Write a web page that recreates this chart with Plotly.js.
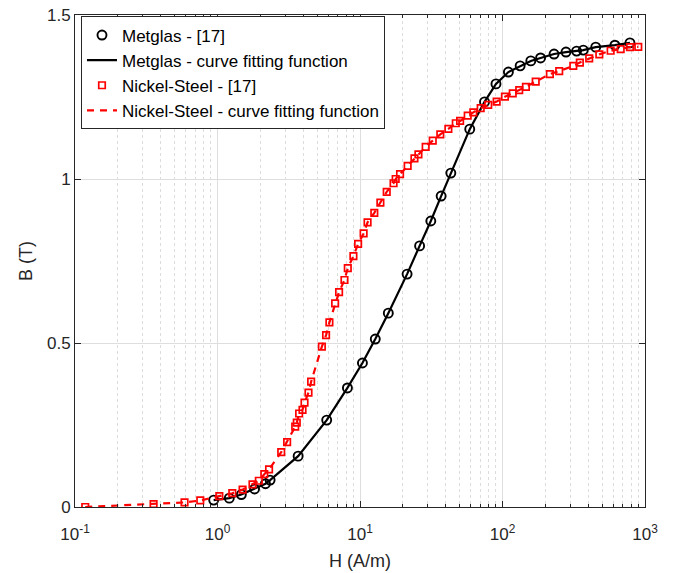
<!DOCTYPE html>
<html>
<head>
<meta charset="utf-8">
<script src="https://cdn.plot.ly/plotly-3.0.1.min.js"></script>
<style>html,body{margin:0;padding:0;background:#fff;}#chart{width:675px;height:573px;}</style>
</head>
<body>
<div id="chart"></div>
<script>
// Metglas measured data [17]
const metglasH = [0.94, 1.21, 1.47, 1.82, 2.17, 2.34, 3.68, 5.84, 8.16, 10.4, 12.8, 15.8, 21.4, 26.2, 31.4, 37.1, 43.4, 58.9, 74.8, 90.0, 110, 133, 158, 185, 230, 279, 331, 369, 451, 615, 784];
const metglasB = [0.021, 0.027, 0.038, 0.055, 0.071, 0.082, 0.155, 0.265, 0.363, 0.439, 0.512, 0.591, 0.710, 0.796, 0.872, 0.948, 1.018, 1.152, 1.235, 1.290, 1.326, 1.345, 1.360, 1.369, 1.381, 1.387, 1.390, 1.393, 1.402, 1.408, 1.415];

// Nickel-Steel measured data [17]
const nickelH = [0.118, 0.356, 0.587, 0.757, 1.03, 1.27, 1.50, 1.76, 1.95, 2.13, 2.30, 2.80, 3.08, 3.51, 3.60, 3.74, 3.95, 4.08, 4.35, 4.54, 5.40, 5.78, 6.10, 6.69, 7.13, 7.78, 8.21, 8.99, 9.70, 10.6, 11.3, 12.6, 13.9, 15.4, 17.2, 17.8, 19.1, 21.6, 24.1, 25.7, 28.9, 32.4, 36.6, 41.7, 47.0, 50.4, 57.0, 62.4, 70.3, 79.4, 91.0, 104, 118, 131, 146, 171, 215, 250, 314, 349, 406, 478, 574, 675, 784, 897];
const nickelB = [0.000, 0.009, 0.014, 0.020, 0.033, 0.042, 0.053, 0.069, 0.080, 0.100, 0.115, 0.167, 0.198, 0.245, 0.257, 0.285, 0.296, 0.318, 0.349, 0.382, 0.489, 0.524, 0.563, 0.621, 0.655, 0.692, 0.728, 0.765, 0.802, 0.834, 0.868, 0.897, 0.928, 0.961, 0.987, 1.000, 1.015, 1.040, 1.063, 1.075, 1.098, 1.117, 1.136, 1.153, 1.170, 1.177, 1.193, 1.203, 1.216, 1.226, 1.236, 1.251, 1.261, 1.271, 1.281, 1.297, 1.320, 1.329, 1.345, 1.355, 1.368, 1.380, 1.391, 1.396, 1.402, 1.403];

// Tick labels
const xTickVals = [0.1, 1, 10, 100, 1000];
const xTickText = ['10<sup>-1</sup>', '10<sup>0</sup>', '10<sup>1</sup>', '10<sup>2</sup>', '10<sup>3</sup>'];
const yTickVals = [0, 0.5, 1, 1.5];
const yTickText = ['0', '0.5', '1', '1.5'];

const seriesNames = ['Metglas - [17]', 'Metglas - curve fitting function', 'Nickel-Steel - [17]', 'Nickel-Steel - curve fitting function'];

const traces = [
  {x: metglasH, y: metglasB, name: seriesNames[0], type: 'scatter', mode: 'markers',
   marker: {symbol: 'circle-open', size: 9, color: '#000', line: {width: 1.9, color: '#000'}}},
  {x: metglasH, y: metglasB, name: seriesNames[1], type: 'scatter', mode: 'lines',
   line: {color: '#000', width: 2.2}},
  {x: nickelH, y: nickelB, name: seriesNames[2], type: 'scatter', mode: 'markers',
   marker: {symbol: 'square-open', size: 6.5, color: '#ff0000', line: {width: 1.7, color: '#ff0000'}}},
  {x: nickelH, y: nickelB, name: seriesNames[3], type: 'scatter', mode: 'lines',
   line: {color: '#ff0000', width: 2.2, dash: '7px,6px'}}
];

const axisColor = '#262626';
const layout = {
  width: 675, height: 573,
  margin: {l: 75, r: 30, t: 15, b: 66},
  paper_bgcolor: '#fff', plot_bgcolor: '#fff',
  font: {family: 'Arial, "Liberation Sans", Helvetica, sans-serif', color: axisColor, size: 17},
  showlegend: true,
  legend: {x: 0.0105, y: 0.997, xanchor: 'left', yanchor: 'top',
    bgcolor: '#fff', bordercolor: axisColor, borderwidth: 1,
    font: {size: 17, color: '#000'}, tracegroupgap: 0},
  xaxis: {
    type: 'log', range: [-1, 3],
    tickvals: xTickVals, ticktext: xTickText,
    ticks: 'inside', ticklen: 6, tickcolor: axisColor, tickwidth: 1,
    showline: true, linecolor: axisColor, linewidth: 1, mirror: 'ticks',
    showgrid: true, gridcolor: '#dedede', gridwidth: 1,
    zeroline: false,
    ticklabelstandoff: 12,
    tickfont: {size: 17, color: axisColor},
    minor: {dtick: 'D1', ticks: 'inside', ticklen: 3, tickcolor: axisColor, showgrid: true, gridcolor: '#dcdcdc', griddash: 'dot', gridwidth: 1},
    title: {text: 'H (A/m)', font: {size: 18, color: axisColor}, standoff: 10}
  },
  yaxis: {
    range: [0, 1.5],
    tickvals: yTickVals, ticktext: yTickText,
    ticks: 'inside', ticklen: 6, tickcolor: axisColor, tickwidth: 1,
    showline: true, linecolor: axisColor, linewidth: 1, mirror: 'ticks',
    showgrid: true, gridcolor: '#dedede', gridwidth: 1,
    zeroline: false,
    tickfont: {size: 17, color: axisColor},
    title: {text: 'B (T)', font: {size: 18, color: axisColor}, standoff: 9}
  }
};

Plotly.newPlot('chart', traces, layout, {displayModeBar: false, staticPlot: true});
</script>
</body>
</html>
